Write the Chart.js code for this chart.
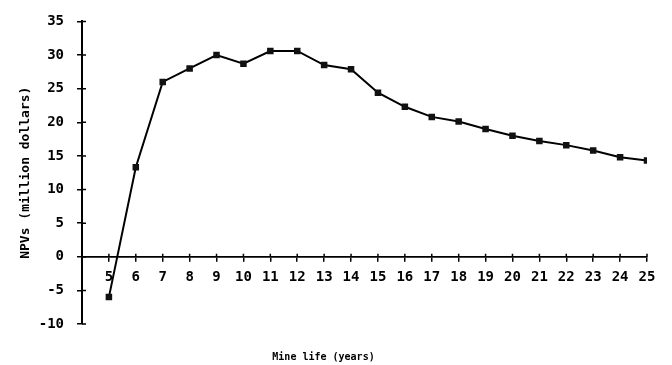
<!DOCTYPE html>
<html>
<head>
<meta charset="utf-8">
<script src="https://cdn.jsdelivr.net/npm/chart.js@4.4.1/dist/chart.umd.min.js"></script>
<style>
  html, body { margin: 0; padding: 0; background: #fff; }
  #wrap { width: 672px; height: 365px; position: relative; }
</style>
</head>
<body>
<div id="wrap"><canvas id="c"></canvas></div>
<script>
// Data
const mineLife = [5, 6, 7, 8, 9, 10, 11, 12, 13, 14, 15, 16, 17, 18, 19, 20, 21, 22, 23, 24, 25];
const npvValues = [-6.0, 13.3, 26.0, 28.0, 30.0, 28.7, 30.6, 30.6, 28.5, 27.9, 24.4, 22.3, 20.8, 20.1, 19.0, 18.0, 17.2, 16.6, 15.8, 14.8, 14.3];
const yTicks = [-10, -5, 0, 5, 10, 15, 20, 25, 30, 35];
const xTickLabels = mineLife.map(String);
const yTitle = 'NPVs (million dollars)';
const xTitle = 'Mine life (years)';

const points = mineLife.map((x, i) => ({ x: x, y: npvValues[i] }));
const monoFont = '"DejaVu Sans Mono", "Liberation Mono", monospace';

// Plugin: draw the inner half of the crossing tick marks using the scales
const crossTicks = {
  id: 'crossTicks',
  afterDatasetsDraw(chart) {
    const ctx = chart.ctx;
    const xs = chart.scales.x, ys = chart.scales.y;
    const x0 = ys.left + ys.width; // y axis line
    const y0 = ys.getPixelForValue(0);
    ctx.save();
    ctx.strokeStyle = '#000';
    ctx.lineWidth = 1.5;
    ctx.beginPath();
    yTicks.forEach(v => {
      const py = ys.getPixelForValue(v);
      ctx.moveTo(x0, py);
      ctx.lineTo(x0 + 4, py);
    });
    mineLife.forEach(v => {
      const px = xs.getPixelForValue(v);
      ctx.moveTo(px, y0);
      ctx.lineTo(px, y0 - 3);
    });
    ctx.stroke();
    ctx.restore();
  }
};

new Chart(document.getElementById('c'), {
  type: 'line',
  data: {
    datasets: [{
      data: points,
      borderColor: '#000',
      backgroundColor: '#000',
      borderWidth: 2,
      pointStyle: 'rect',
      pointRadius: 4.6,
      pointBorderWidth: 0,
      pointBackgroundColor: '#111',
      tension: 0,
      fill: false
    }]
  },
  options: {
    responsive: true,
    maintainAspectRatio: false,
    animation: false,
    layout: { padding: { left: 0, right: 25, top: 19, bottom: 0 } },
    plugins: {
      legend: { display: false },
      tooltip: { enabled: false },
      title: {
        display: true,
        position: 'bottom',
        text: xTitle,
        color: '#000',
        font: { family: monoFont, size: 10, weight: 'bold' },
        padding: { top: 27, bottom: 2 }
      }
    },
    scales: {
      x: {
        type: 'linear',
        position: { y: 0 },
        min: 4,
        max: 25,
        afterBuildTicks(scale) {
          scale.ticks = mineLife.map(v => ({ value: v }));
        },
        ticks: {
          color: '#000',
          font: { family: monoFont, size: 14, weight: 'bold' },
          padding: 8,
          maxRotation: 0,
          autoSkip: false,
          callback: (v) => xTickLabels[mineLife.indexOf(v)] ?? ''
        },
        grid: { display: true, drawOnChartArea: false, drawTicks: true, tickLength: 4, color: '#000', lineWidth: 1.5 },
        border: { display: true, color: '#000', width: 1.8 }
      },
      y: {
        type: 'linear',
        position: 'left',
        min: -10,
        max: 35,
        afterBuildTicks(scale) {
          scale.ticks = yTicks.map(v => ({ value: v }));
        },
        afterFit(scale) { scale.width = 82; },
        ticks: {
          color: '#000',
          font: { family: monoFont, size: 14, weight: 'bold' },
          padding: 13
        },
        title: {
          display: true,
          text: yTitle,
          color: '#000',
          font: { family: monoFont, size: 13, weight: 'bold' },
          padding: { top: 18, bottom: 0 }
        },
        grid: { display: true, drawOnChartArea: false, drawTicks: true, tickLength: 5, color: '#000', lineWidth: 1.5 },
        border: { display: true, color: '#000', width: 2 }
      }
    }
  },
  plugins: [crossTicks]
});
</script>
</body>
</html>
